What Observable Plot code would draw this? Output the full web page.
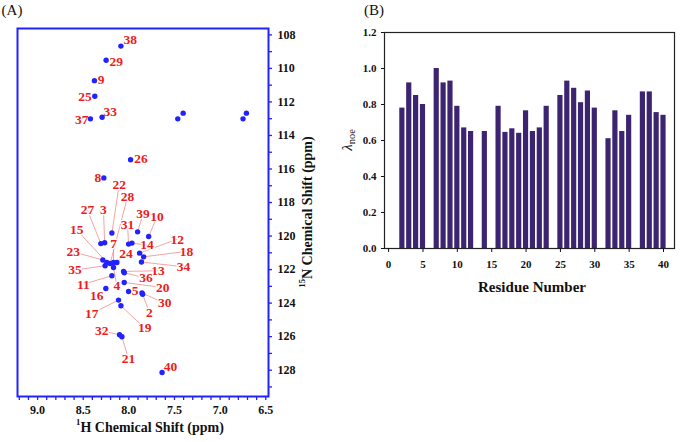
<!DOCTYPE html>
<html><head><meta charset="utf-8">
<script src="https://cdn.jsdelivr.net/npm/d3@7"></script>
<script src="https://cdn.jsdelivr.net/npm/@observablehq/plot@0.6"></script>
<style>
body{margin:0;background:#fff;}
#wrap{position:relative;width:680px;height:442px;overflow:hidden;font-family:"Liberation Serif","Times New Roman",serif;color:#111;}
.abs{position:absolute;white-space:nowrap;line-height:1;}
.c{transform:translate(-50%,-50%);}
.b{font-weight:bold;}
sup{font-size:0.62em;vertical-align:top;line-height:0;position:relative;top:0.1em;}
sub{font-size:0.7em;vertical-align:baseline;position:relative;top:0.3em;line-height:0;}
</style></head><body>
<div id="wrap">
  <div id="pa" class="abs" style="left:0;top:0"></div>
  <div id="pb" class="abs" style="left:340px;top:0"></div>
  <div class="abs c" style="left:12px;top:10px;font-size:15px;">(A)</div>
  <div class="abs c" style="left:374px;top:10px;font-size:15px;">(B)</div>
  <div class="abs c b" style="left:150px;top:428px;font-size:14px;"><sup>1</sup>H Chemical Shift (ppm)</div>
  <div class="abs b" style="left:308px;top:212px;font-size:14px;transform:translate(-50%,-50%) rotate(-90deg);"><sup>15</sup>N Chemical Shift (ppm)</div>
  <div class="abs" style="left:347px;top:140px;font-size:15px;transform:translate(-50%,-50%) rotate(-90deg);"><i>λ</i><sub>noe</sub></div>
  <div class="abs c b" style="left:532px;top:287px;font-size:15px;">Residue Number</div>
</div>
<script>
// ---------- Panel A data: 1H-15N HSQC peaks ----------
const residues = [38,29,9,25,33,37,26,8,22,28,27,3,39,10,31,14,12,18,34,15,23,7,24,35,4,11,13,36,20,16,5,30,2,17,19,32,21,40];
const hShift   = [8.087,8.249,8.377,8.373,8.293,8.421,7.981,8.274,8.186,8.205,8.307,8.265,7.904,7.783,8.003,7.966,7.882,7.838,7.862,8.241,8.285,8.168,8.131,8.260,8.168,8.186,8.058,8.050,8.051,8.252,8.003,7.856,7.849,8.113,8.087,8.102,8.076,7.636];
const nShift   = [108.67,109.51,110.73,111.66,112.91,113.01,115.45,116.53,119.82,121.64,120.45,120.40,119.75,120.03,120.48,120.42,121.02,121.24,121.55,121.58,121.43,121.58,121.58,121.77,121.88,122.37,122.11,122.19,122.77,123.13,123.31,123.40,123.47,123.82,124.16,125.89,126.01,128.14];
// label anchor positions (ppm)
const labelH   = [7.985,8.139,8.304,8.480,8.205,8.516,7.867,8.340,8.106,8.014,8.454,8.278,7.845,7.691,8.014,7.801,7.471,7.369,7.402,8.571,8.608,8.168,8.032,8.590,8.131,8.498,7.680,7.812,7.629,8.351,7.930,7.607,7.776,8.406,7.827,8.296,8.003,7.545];
const labelN   = [108.28,109.57,110.68,111.70,112.59,113.05,115.41,116.53,116.94,117.66,118.45,118.45,118.69,118.85,119.35,120.54,120.19,120.91,121.83,119.63,120.94,120.45,121.04,122.03,122.97,122.87,122.07,122.51,123.07,123.56,123.27,124.00,124.56,124.62,125.49,125.65,127.34,127.80];
const leader   = [0,0,0,0,0,0,0,0,1,1,1,1,1,1,1,1,1,1,1,1,1,1,1,1,1,1,1,1,1,0,0,1,1,1,1,1,1,0];
// unassigned side-chain peaks
const extraH = [7.464,7.405,6.749,6.712];
const extraN = [113.01,112.67,113.01,112.67];
const xTicksA = [9.0,8.5,8.0,7.5,7.0,6.5];
const yTicksA = [108,110,112,114,116,118,120,122,124,126,128];

// ---------- Panel B data: lambda_noe per residue ----------
const residueB = [2,3,4,5,7,8,9,10,11,12,14,16,17,18,19,20,21,22,23,25,26,27,28,29,30,32,33,34,35,37,38,39,40];
const noe      = [0.78,0.92,0.85,0.80,1.00,0.92,0.93,0.79,0.67,0.65,0.65,0.79,0.645,0.665,0.64,0.765,0.65,0.67,0.79,0.85,0.93,0.89,0.81,0.875,0.78,0.61,0.765,0.65,0.74,0.87,0.87,0.755,0.74];
const xTicksB = [0,5,10,15,20,25,30,35,40];
const yTicksB = [0,0.2,0.4,0.6,0.8,1.0,1.2];

const peaks = residues.map((r,i)=>({r, h:hShift[i], n:nShift[i], lh:labelH[i], ln:labelN[i], lead:leader[i]}));
const extras = extraH.map((h,i)=>({h, n:extraN[i]}));
const bars = residueB.map((r,i)=>({r, v:noe[i]}));

const blue = "#2222ff";
const minorX = d3.range(65, 93).map(d=>d/10);
const minorY = d3.range(108, 130);

const A = Plot.plot({
  width: 340, height: 442,
  marginLeft: 17, marginRight: 72, marginTop: 28, marginBottom: 46,
  style: {fontFamily: "'Liberation Serif', serif", fontWeight: "bold", fontSize: "12px", background: "white"},
  x: {domain: [9.22, 6.47]},
  y: {domain: [129.57, 107.62]},
  marks: [
    Plot.link(peaks.filter(d=>d.lead), {x1:"lh", y1:"ln", x2:"h", y2:"n", stroke:"#f27b7b", strokeWidth:0.7}),
    Plot.text(peaks, {x:"lh", y:"ln", text:"r", fill:"#ee1c1c", fontSize:13.5, fontWeight:"bold", stroke:"white", strokeWidth:2.5}),
    Plot.dot(peaks, {x:"h", y:"n", r:2.7, fill:blue, stroke:null}),
    Plot.dot(extras, {x:"h", y:"n", r:2.7, fill:blue, stroke:null}),
    Plot.frame({stroke: blue, strokeWidth: 2}),
    Plot.axisX({ticks: minorX, tickSize: 4, text: null, color: blue, strokeWidth: 1.3, label: null}),
    Plot.axisX({ticks: xTicksA, tickSize: 0, tickPadding: 9, tickFormat: d=>d.toFixed(1), color: "#111", label: null}),
    Plot.axisY({anchor: "right", ticks: minorY, tickSize: 3, text: null, color: blue, strokeWidth: 1.3, label: null}),
    Plot.axisY({anchor: "right", ticks: yTicksA, tickSize: 0, tickPadding: 9, color: "#111", label: null})
  ]
});
document.getElementById("pa").appendChild(A);

const B = Plot.plot({
  width: 340, height: 442,
  marginLeft: 44, marginRight: 6, marginTop: 32, marginBottom: 194,
  style: {fontFamily: "'Liberation Serif', serif", fontWeight: "bold", fontSize: "11px", background: "white"},
  x: {domain: [-0.6, 41.6]},
  y: {domain: [0, 1.2]},
  marks: [
    Plot.rectY(bars, {x1: d=>d.r-0.5, x2: d=>d.r+0.5, y: "v", insetLeft: 0.85, insetRight: 0.85, fill: "#3c2470"}),
    Plot.frame({stroke: "#222", strokeWidth: 1.2}),
    Plot.axisX({ticks: xTicksB, tickSize: 4, tickPadding: 8, label: null, color: "#111"}),
    Plot.axisY({ticks: yTicksB, tickSize: 3, tickPadding: 5, tickFormat: d=>d.toFixed(1), label: null, color: "#111"})
  ]
});
document.getElementById("pb").appendChild(B);
</script>
</body></html>
